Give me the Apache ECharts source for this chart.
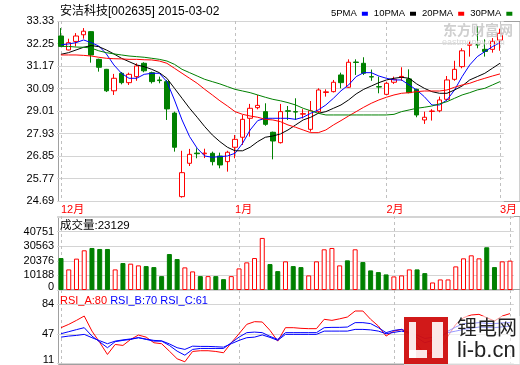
<!DOCTYPE html>
<html><head><meta charset="utf-8">
<script src="https://cdn.jsdelivr.net/npm/echarts/dist/echarts.min.js"></script>
<style>html,body{margin:0;padding:0;background:#fff}#c{width:520px;height:365px}</style>
</head><body><div id="c"></div><script>
const dates = ['2014-12-01','2014-12-02','2014-12-03','2014-12-04','2014-12-05','2014-12-08','2014-12-09','2014-12-10','2014-12-11','2014-12-12',
'2014-12-15','2014-12-16','2014-12-17','2014-12-18','2014-12-19','2014-12-22','2014-12-23','2014-12-24','2014-12-25','2014-12-26',
'2014-12-29','2014-12-30','2014-12-31','2015-01-05','2015-01-06','2015-01-07','2015-01-08','2015-01-09','2015-01-12','2015-01-13',
'2015-01-14','2015-01-15','2015-01-16','2015-01-19','2015-01-20','2015-01-21','2015-01-22','2015-01-23','2015-01-26','2015-01-27',
'2015-01-28','2015-01-29','2015-01-30','2015-02-02','2015-02-03','2015-02-04','2015-02-05','2015-02-06','2015-02-09','2015-02-10',
'2015-02-11','2015-02-12','2015-02-13','2015-02-16','2015-02-17','2015-02-25','2015-02-26','2015-02-27','2015-03-02'];
const monthTickDates = ['2014-12-01','2015-01-05','2015-02-02','2015-03-02'];
const monthTickLabels = ['12月','1月','2月','3月'];
const opens  = [32.61,31.94,32.35,32.67,32.82,31.49,31.01,29.98,30.82,30.37,30.66,31.30,30.85,30.50,30.42,28.91,24.90,26.50,26.99,26.96,26.98,26.85,26.58,27.27,27.75,28.66,29.17,28.98,27.99,27.49,29.02,28.98,28.86,28.13,28.98,29.90,29.94,30.74,30.15,31.36,31.30,30.66,30.18,29.81,30.39,30.65,30.55,30.05,28.58,28.99,29.02,29.57,30.53,31.14,32.17,32.20,31.97,31.97,32.41];
const closes = [32.11,32.29,32.61,32.84,31.70,31.11,29.98,30.58,30.37,30.77,31.17,30.94,30.42,30.47,29.11,27.27,26.05,26.93,26.96,26.99,26.58,26.42,27.03,27.65,28.61,29.14,29.28,28.37,27.57,28.98,29.00,28.96,28.88,29.02,30.02,29.93,30.39,30.37,31.35,31.34,30.82,30.64,30.16,30.34,30.53,30.67,29.89,28.82,28.71,29.01,29.54,30.50,31.01,31.90,32.19,32.18,31.87,32.35,32.74];
const lows   = [32.08,31.92,32.11,32.48,31.33,30.90,29.92,29.78,30.29,30.26,30.46,30.87,30.33,30.34,28.58,27.06,24.85,26.37,26.74,26.75,26.40,26.26,26.10,26.74,27.38,27.78,29.09,28.30,26.69,27.45,28.58,28.58,28.65,28.02,28.90,29.70,29.90,30.10,30.12,30.74,30.74,30.46,29.86,29.78,30.31,30.46,29.86,28.71,28.39,28.55,28.95,29.50,30.46,31.06,31.62,32.02,31.62,31.81,31.90];
const highs  = [32.99,32.48,32.75,32.99,32.84,31.52,31.03,30.79,30.88,30.85,31.30,31.35,30.90,30.66,30.50,28.98,27.10,27.19,27.22,27.20,27.06,27.01,27.10,27.86,28.82,29.35,29.78,29.38,28.02,29.35,29.25,29.62,29.10,29.49,30.10,30.05,30.50,30.85,31.49,31.49,31.59,31.00,30.66,30.40,30.66,31.11,31.01,30.08,28.98,29.10,29.70,30.69,31.42,32.02,32.34,33.09,32.45,32.51,32.96];
const ma5  = [32.18,32.23,32.29,32.42,32.29,32.13,31.75,31.22,30.82,30.58,30.58,30.77,30.82,30.82,30.42,29.54,28.58,27.78,27.22,26.85,26.79,26.82,26.85,26.98,27.46,28.10,28.55,28.66,28.66,28.66,28.66,28.61,28.71,28.90,29.06,29.30,29.62,29.98,30.26,30.66,30.85,30.85,30.69,30.58,30.50,30.50,30.26,30.02,29.70,29.30,29.30,29.54,30.02,30.66,31.22,31.62,31.86,32.10,32.29];
const ma10 = [31.73,31.81,31.94,32.07,32.15,32.10,31.94,31.75,31.54,31.38,31.22,31.14,31.01,30.85,30.58,30.10,29.62,29.14,28.71,28.26,27.86,27.54,27.27,27.10,27.10,27.27,27.54,27.75,27.81,27.91,28.10,28.34,28.58,28.71,28.90,28.98,29.14,29.30,29.54,29.83,30.05,30.21,30.37,30.50,30.58,30.63,30.58,30.31,30.10,29.94,29.86,29.86,30.02,30.21,30.50,30.66,30.82,31.06,31.30];
const ma20 = [31.70,31.70,31.70,31.68,31.65,31.59,31.54,31.52,31.51,31.49,31.49,31.47,31.46,31.41,31.30,31.06,30.82,30.58,30.34,30.05,29.78,29.50,29.25,28.98,28.85,28.77,28.71,28.61,28.58,28.50,28.34,28.23,28.10,27.97,27.97,28.10,28.34,28.55,28.77,28.98,29.19,29.38,29.54,29.67,29.78,29.86,29.89,29.94,29.97,29.97,29.97,30.02,30.15,30.26,30.34,30.47,30.58,30.69,30.79];
const ma30 = [32.11,32.11,32.08,32.07,32.03,31.90,31.81,31.75,31.70,31.65,31.62,31.59,31.54,31.49,31.41,31.25,31.01,30.85,30.69,30.53,30.42,30.31,30.18,30.05,29.97,29.89,29.78,29.67,29.57,29.50,29.41,29.30,29.14,29.02,28.90,28.82,28.82,28.82,28.82,28.82,28.82,28.82,28.82,28.82,28.85,28.98,29.06,29.14,29.19,29.25,29.35,29.46,29.62,29.78,29.89,30.02,30.10,30.26,30.42];
const volumes = [22340,14400,21920,27750,29370,28670,28670,14400,18830,18410,17210,16720,16020,9700,25150,21640,15810,13000,9700,9700,9700,7590,9700,15100,19320,22340,36400,18130,13210,20020,16720,16020,10190,20020,28450,29370,17210,20730,28450,19530,13700,12510,10890,9490,10190,14400,14400,11800,5270,7380,7380,16510,22130,24240,22130,29860,16020,20020,20520];
const rsiA = [55.0,59.1,64.0,69.3,50.8,36.9,22.1,34.4,33.2,40.6,45.9,43.4,36.5,35.3,26.2,16.8,13.1,25.8,26.7,26.7,25.8,24.2,36.5,47.6,59.1,62.4,62.0,51.7,38.5,55.0,55.0,54.2,53.8,53.8,65.3,64.0,65.9,68.1,75.5,75.5,65.3,57.0,44.7,50.8,52.9,46.8,34.4,22.1,24.6,28.3,44.7,59.1,67.3,70.6,71.4,67.3,63.2,69.3,72.3];
const rsiB = [47.6,50.1,52.6,55.0,44.7,37.5,30.4,37.8,39.4,40.6,42.7,40.6,38.5,38.5,33.2,26.2,21.2,28.3,29.5,29.5,29.5,29.5,36.5,43.4,48.9,49.6,48.9,44.3,40.6,48.9,48.9,48.9,48.9,48.9,55.0,55.4,55.4,55.8,61.2,61.2,60.0,55.0,48.9,51.7,52.9,49.2,42.7,36.5,39.4,42.7,50.8,55.8,60.0,60.3,61.2,60.3,60.0,60.9,61.2];
const rsiC = [43.4,44.7,45.5,46.8,42.7,39.0,35.3,38.5,40.0,41.2,42.7,41.0,39.4,38.8,35.1,30.4,28.3,32.3,32.0,32.0,31.6,31.1,35.3,39.4,42.7,43.4,46.1,43.1,39.4,46.8,46.8,46.8,46.8,46.8,50.8,50.8,50.8,50.8,52.9,52.9,52.3,50.8,47.6,49.2,50.8,48.6,45.9,41.8,43.1,44.7,48.9,50.8,52.9,54.2,55.8,55.4,55.0,56.0,57.0];
const priceTicks = ['24.69','25.77','26.85','27.93','29.01','30.09','31.17','32.25','33.33'];
const volTicks = ['0','10188','20376','30563','40751'];
const rsiTicks = ['11','47','84'];

const RED = '#ff0000', GREEN = '#008000', BLUE = '#0000ff';
const FONT = '"Liberation Sans","Noto Sans CJK SC",sans-serif';
const GX = 57.13, GW = 456.7;
const isMonth = (i, v) => monthTickDates.indexOf(v) >= 0;

const chart = echarts.init(document.getElementById('c'), null, {renderer: 'canvas'});

function catAxis(gi, showLabel) {
  return {
    type: 'category', gridIndex: gi, data: dates, boundaryGap: true,
    axisLine: {show: false}, axisTick: {show: false},
    axisLabel: {show: showLabel, interval: isMonth, align: 'left', color: RED, fontSize: 11, fontFamily: FONT, margin: 3,
      formatter: v => monthTickLabels[monthTickDates.indexOf(v)] || ''},
    splitLine: {show: true, interval: isMonth, alignWithLabel: true, lineStyle: {color: '#c0c0c0', type: [3, 3], width: 1}}
  };
}
function frameX(gi) { return {type: 'value', gridIndex: gi, show: false}; }
function tickLabel(list, min, step) {
  return v => {
    const k = Math.round((v - min) / step);
    if (Math.abs(v - (min + k * step)) > 1e-6 * Math.max(1, Math.abs(v))) return '';
    if (k === 0) return '{z|' + list[0] + '}';
    return list[k] || '';
  };
}

const option = {
  animation: false,
  backgroundColor: '#fff',
  title: [
    {text: '安洁科技[002635] 2015-03-02', left: 60, top: 6, padding: 0,
     textStyle: {fontSize: 12, fontWeight: 'normal', color: '#000', fontFamily: FONT}},
    {text: '成交量:23129', left: 60, top: 220, padding: 0,
     textStyle: {fontSize: 11.5, fontWeight: 'normal', color: '#000', fontFamily: FONT}},
    {text: '{a|RSI_A:80} {b|RSI_B:70 RSI_C:61}', left: 60, top: 295, padding: 0,
     textStyle: {fontSize: 11, fontWeight: 'normal', fontFamily: FONT,
       rich: {a: {color: RED, fontSize: 11, fontFamily: FONT}, b: {color: BLUE, fontSize: 11, fontFamily: FONT}}}}
  ],
  legend: {
    data: ['5PMA', '10PMA', '20PMA', '30PMA'], left: 331, top: 9, width: 200, padding: 0,
    align: 'right', icon: 'rect', itemWidth: 6, itemHeight: 4, itemGap: 6,
    selectedMode: false, textStyle: {fontSize: 9.5, color: '#000', fontFamily: FONT}
  },
  grid: [
    {left: GX, width: GW, top: 21, height: 180},
    {left: GX, width: GW, top: 216, height: 74},
    {left: GX, width: GW, top: 290, height: 74},
    {left: 58.5, right: -10, top: 21.5, height: 180, show: true, borderColor: '#a0a0a0', borderWidth: 1, backgroundColor: 'transparent'},
    {left: 58.5, right: -10, top: 216.5, height: 73, show: true, borderColor: '#a0a0a0', borderWidth: 1, backgroundColor: 'transparent'},
    {left: 58.5, right: -10, top: 289.5, height: 75, show: true, borderColor: '#a0a0a0', borderWidth: 1, backgroundColor: 'transparent'}
  ],
  xAxis: [catAxis(0, true), catAxis(1, false), catAxis(2, false), frameX(3), frameX(4), frameX(5)],
  yAxis: [
    {type: 'value', gridIndex: 0, min: 24.69, max: 33.33, interval: 1.08,
     axisLine: {show: false}, axisTick: {show: false},
     axisLabel: {color: '#000', fontSize: 11, fontFamily: FONT, margin: 3,
       formatter: v => priceTicks[Math.round((v - 24.69) / 1.08)] || ''},
     splitLine: {lineStyle: {color: '#d4d4d4', width: 1}}},
    {type: 'value', gridIndex: 1, min: 0, max: 51725, interval: 10187.75,
     axisLine: {show: false}, axisTick: {show: false},
     axisLabel: {color: '#000', fontSize: 11, fontFamily: FONT, margin: 3,
       formatter: tickLabel(volTicks, 0, 10187.75),
       rich: {z: {padding: [0, 0, 7, 0], fontSize: 11, fontFamily: FONT, color: '#000'}}},
     splitLine: {lineStyle: {color: '#d4d4d4', width: 1}}},
    {type: 'value', gridIndex: 2, min: 11, max: 101.3, interval: 36.5,
     axisLine: {show: false}, axisTick: {show: false},
     axisLabel: {color: '#000', fontSize: 11, fontFamily: FONT, margin: 3,
       formatter: tickLabel(rsiTicks, 11, 36.5),
       rich: {z: {padding: [0, 0, 8, 0], fontSize: 11, fontFamily: FONT, color: '#000'}}},
     splitLine: {lineStyle: {color: '#d4d4d4', width: 1}}},
    {type: 'value', gridIndex: 3, show: false},
    {type: 'value', gridIndex: 4, show: false},
    {type: 'value', gridIndex: 5, show: false}
  ],
  series: [
    {type: 'candlestick', xAxisIndex: 0, yAxisIndex: 0, barWidth: 5,
     data: opens.map((o, i) => [o, closes[i], lows[i], highs[i]]),
     itemStyle: {color: '#ffffff', color0: GREEN, borderColor: RED, borderColor0: GREEN, borderWidth: 1}},
    {name: '5PMA', type: 'line', data: ma5, symbol: 'none', xAxisIndex: 0, yAxisIndex: 0,
     lineStyle: {color: BLUE, width: 1}, itemStyle: {color: BLUE}},
    {name: '10PMA', type: 'line', data: ma10, symbol: 'none', xAxisIndex: 0, yAxisIndex: 0,
     lineStyle: {color: '#000', width: 1}, itemStyle: {color: '#000'}},
    {name: '20PMA', type: 'line', data: ma20, symbol: 'none', xAxisIndex: 0, yAxisIndex: 0,
     lineStyle: {color: RED, width: 1}, itemStyle: {color: RED}},
    {name: '30PMA', type: 'line', data: ma30, symbol: 'none', xAxisIndex: 0, yAxisIndex: 0,
     lineStyle: {color: GREEN, width: 1}, itemStyle: {color: GREEN}},
    {type: 'bar', xAxisIndex: 1, yAxisIndex: 1, barWidth: 5,
     data: volumes.map((v, i) => ({value: v, itemStyle: closes[i] >= opens[i]
        ? {color: '#ffffff', borderColor: RED, borderWidth: 1}
        : {color: GREEN, borderColor: GREEN, borderWidth: 1}}))},
    {type: 'line', data: rsiA, symbol: 'none', xAxisIndex: 2, yAxisIndex: 2, lineStyle: {color: RED, width: 1}},
    {type: 'line', data: rsiB, symbol: 'none', xAxisIndex: 2, yAxisIndex: 2, lineStyle: {color: BLUE, width: 1}},
    {type: 'line', data: rsiC, symbol: 'none', xAxisIndex: 2, yAxisIndex: 2, lineStyle: {color: BLUE, width: 1}}
  ],
  graphic: [
    {type: 'text', left: 443, top: 23, z: 50, style: {text: '东方财富网', fill: '#cfcfcf', font: 'bold 14px "Noto Sans CJK SC"'}},
    {type: 'text', left: 442, top: 38, z: 50, style: {text: 'eastmoney.com', fill: '#d8d8d8', font: '9px "Liberation Sans"'}},
    {type: 'rect', z: 100, shape: {x: 404, y: 316, width: 116, height: 49}, style: {fill: 'rgba(255,255,255,0.6)'}},
    {type: 'rect', z: 101, shape: {x: 404, y: 317, width: 44, height: 47}, style: {fill: '#cc0000', opacity: 0.9}},
    {type: 'rect', z: 102, shape: {x: 409, y: 322, width: 7, height: 36}, style: {fill: '#ffffff', opacity: 0.9}},
    {type: 'rect', z: 102, shape: {x: 409, y: 350, width: 18, height: 8}, style: {fill: '#ffffff', opacity: 0.9}},
    {type: 'rect', z: 102, shape: {x: 432, y: 322, width: 11, height: 36}, style: {fill: '#ffffff', opacity: 0.9}},
    {type: 'text', z: 102, left: 457, top: 317, style: {text: '锂电网', fill: '#222', font: '20px "Noto Sans CJK SC"'}},
    {type: 'text', z: 102, left: 457, top: 340, style: {text: 'li-b.cn', fill: '#222', font: '22px "Liberation Sans"'}}
  ]
};
chart.setOption(option);
</script></body></html>
